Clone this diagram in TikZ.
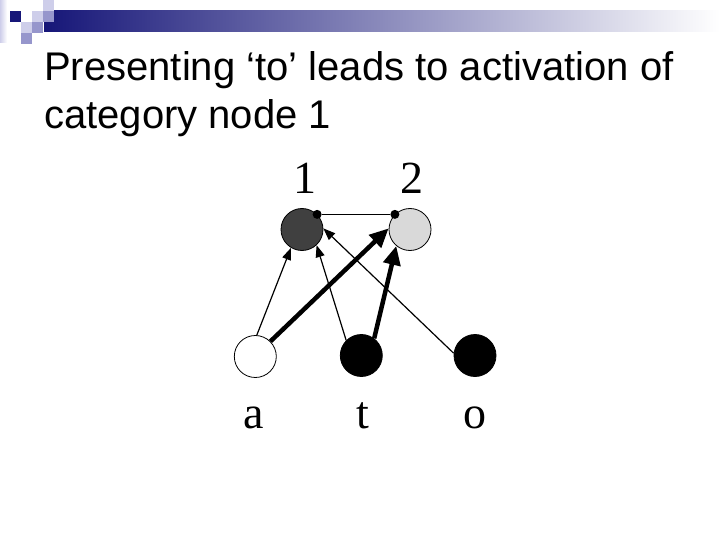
\documentclass[tikz,border=0pt]{standalone}
\usepackage{fontspec}
\setmainfont{Liberation Serif}
\newfontfamily\titlefont{Liberation Sans}
\usetikzlibrary{arrows.meta}
\definecolor{navy}{RGB}{22,22,120}
\definecolor{lavlight}{RGB}{206,206,234}
\definecolor{lavmid}{RGB}{150,150,204}

\begin{document}
\begin{tikzpicture}[x=1pt,y=-1pt]
  \tikzstyle{u}=[circle,draw=black,line width=0.8pt,minimum size=42pt,inner sep=0pt]
  \tikzstyle{dot}=[circle,fill=black,inner sep=0pt,minimum size=9pt]
  \tikzstyle{weak}=[line width=1.2pt,-{Triangle[length=12pt,width=9pt]}]
  \tikzstyle{strong}=[line width=4.5pt,-{Triangle[length=19pt,width=17pt]}]
  \tikzstyle{lab}=[font=\fontsize{46}{46}\selectfont,anchor=base,inner sep=0pt]
  \useasboundingbox (0,0) rectangle (720,540);
  % Bandeau (en haut)
  \shade[left color=lavlight,right color=white] (0,0) rectangle (7,43);
  \shade[left color=navy,right color=white] (44,11) rectangle (720,32);
  \fill[navy] (10,11) rectangle (21,22);
  \fill[lavlight] (32,11) rectangle (43,22);
  \fill[lavlight] (43,0) rectangle (54,11);
  \fill[lavmid] (43,11) rectangle (54,22);
  \fill[lavlight] (21,22) rectangle (32,33);
  \fill[lavmid] (32,22) rectangle (43,33);
  \fill[lavmid] (21,33) rectangle (32,44);
  % Titre
  \node[anchor=north west,inner sep=0pt,align=left,
        font=\titlefont\fontsize{40}{48}\selectfont] (title) at (44,51)
    {Presenting ‘to’ leads to activation of\\category node 1};
  % Unites
  \node[u,fill=black!75] (c1) at (302,229.5) {};
  \node[u,fill=black!15] (c2) at (410,229.5) {};
  \node[u,fill=white]    (a)  at (255.3,356.5) {};
  \node[u,fill=black]    (t)  at (361.3,355.5) {};
  \node[u,fill=black]    (o)  at (475,355.5) {};
  % Liaison entre categories
  \node[dot] (d1) at (c1.45) {};
  \node[dot] (d2) at (c2.135) {};
  \draw[line width=1.2pt] (d1) -- (d2);
  % Connexions
  \draw[weak]   (a.86)  -- (c1.239);
  \draw[weak]   (t.135) -- (c1.313);
  \draw[weak]   (o.174) -- (c1.3);
  \draw[strong] (a.45)  -- (c2.177);
  \draw[strong] (t.53)  -- (c2.230);
  % Etiquettes
  \node[lab] (l1) at (305,194) {1};
  \node[lab] (l2) at (411.7,194) {2};
  \node[lab] (la) at (253.3,428.3) {a};
  \node[lab] (lt) at (362.7,428.3) {t};
  \node[lab] (lo) at (475,428.3) {o};
\end{tikzpicture}
\end{document}
